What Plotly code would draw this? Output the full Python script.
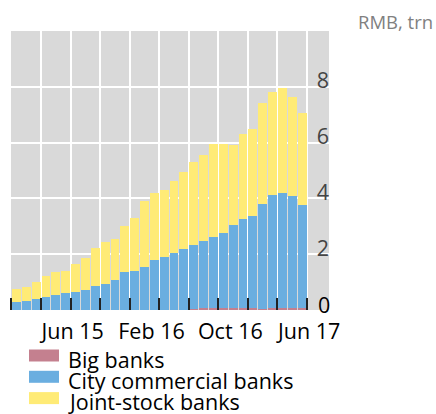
import plotly.graph_objects as go

months = ["Jan 15", "Feb 15", "Mar 15", "Apr 15", "May 15", "Jun 15", "Jul 15", "Aug 15",
          "Sep 15", "Oct 15", "Nov 15", "Dec 15", "Jan 16", "Feb 16", "Mar 16", "Apr 16",
          "May 16", "Jun 16", "Jul 16", "Aug 16", "Sep 16", "Oct 16", "Nov 16", "Dec 16",
          "Jan 17", "Feb 17", "Mar 17", "Apr 17", "May 17", "Jun 17"]
big_banks = [0, 0, 0, 0, 0, 0, 0, 0, 0, 0, 0, 0, 0, 0, 0, 0, 0, 0,
             0.035, 0.07, 0.07, 0.07, 0.07, 0.07, 0.07, 0.035, 0.07, 0.07, 0.07, 0.07]
city_commercial = [0.29, 0.32, 0.39, 0.46, 0.54, 0.61, 0.64, 0.71, 0.86, 0.93, 1.07, 1.36,
                   1.39, 1.54, 1.79, 1.89, 2.04, 2.18, 2.28, 2.40, 2.55, 2.69, 2.98, 3.19,
                   3.30, 3.77, 4.05, 4.12, 4.01, 3.69]
joint_stock = [0.46, 0.50, 0.61, 0.75, 0.82, 0.78, 1.00, 1.15, 1.35, 1.50, 1.47, 1.64,
               1.90, 2.35, 2.42, 2.40, 2.57, 2.75, 3.00, 3.10, 3.32, 3.20, 2.85, 3.04,
               3.11, 3.60, 3.71, 3.75, 3.54, 3.29]
tick_labels = ["Jun 15", "Feb 16", "Oct 16", "Jun 17"]
y_ticks = [0, 2, 4, 6, 8]
series_names = ["Big banks", "City commercial banks", "Joint-stock banks"]
series_colors = ["#c4808f", "#6aaee0", "#ffeb76"]
unit_label = "RMB, trn"

FONT = "Open Sans"
FS = 21.5
W, H = 436, 414
L, R, T, B = 11, 107, 31, 104
PW, PH = W - L - R, H - T - B

def px_x(px):
    return (px - L) / PW

def px_y(py):
    return (H - B - py) / PH

x = list(range(len(months)))
fig = go.Figure()
for name, vals, col in zip(series_names, [big_banks, city_commercial, joint_stock], series_colors):
    fig.add_trace(go.Bar(x=x, y=vals, name=name, marker=dict(color=col, line=dict(width=0)),
                         showlegend=False, hoverinfo="skip"))

tickvals = [months.index(t) for t in tick_labels]

fig.update_layout(
    width=W, height=H, barmode="stack", bargap=0.1,
    margin=dict(l=L, r=R, t=T, b=B, pad=0),
    paper_bgcolor="white", plot_bgcolor="#d9d9d9",
    font=dict(family=FONT, size=FS, color="black"),
    xaxis=dict(range=[-0.55, 31.73], tickvals=tickvals, ticktext=tick_labels,
               ticks="", showgrid=False, zeroline=False, showline=False,
               ticklabelshift=7, ticklabelstandoff=6,
               minor=dict(tick0=2.5, dtick=3, showgrid=True, gridcolor="white", gridwidth=1.5,
                          ticks="inside", ticklen=12, tickcolor="#222222", tickwidth=2)),
    yaxis=dict(range=[0, 10], side="right", ticklabelposition="inside", tickvals=y_ticks,
               showgrid=True, gridcolor="white", gridwidth=1.5, zeroline=False,
               showline=False, ticks="", ticklen=0, ticklabelshift=-6, ticklabelstandoff=-3),
)

# the lowest y tick label sits on the plot edge, where plotly hides inside labels
fig.add_annotation(text=str(y_ticks[0]), xref="paper", yref="y", x=1, y=y_ticks[0],
                   xanchor="right", yanchor="middle", yshift=6, xshift=3, showarrow=False,
                   font=dict(family=FONT, size=FS, color="black"))

fig.add_annotation(text=unit_label, xref="paper", yref="paper", x=px_x(435), y=px_y(21),
                   xanchor="right", yanchor="middle", showarrow=False,
                   font=dict(family=FONT, size=18.5, color="#808080"))

for i, (name, col) in enumerate(zip(series_names, series_colors)):
    off = 21.3 * i
    fig.add_shape(type="rect", xref="paper", yref="paper",
                  x0=px_x(29), x1=px_x(59), y0=px_y(349.5 + off), y1=px_y(361.5 + off),
                  fillcolor=col, line=dict(width=0))
    fig.add_annotation(text=name, xref="paper", yref="paper", x=px_x(66), y=px_y(359 + off),
                       xanchor="left", yanchor="middle", showarrow=False,
                       font=dict(family=FONT, size=FS, color="black"))

fig.write_html("out.html", config={"displayModeBar": False},
               post_script="document.body.style.margin='0';document.body.style.overflow='hidden';")
